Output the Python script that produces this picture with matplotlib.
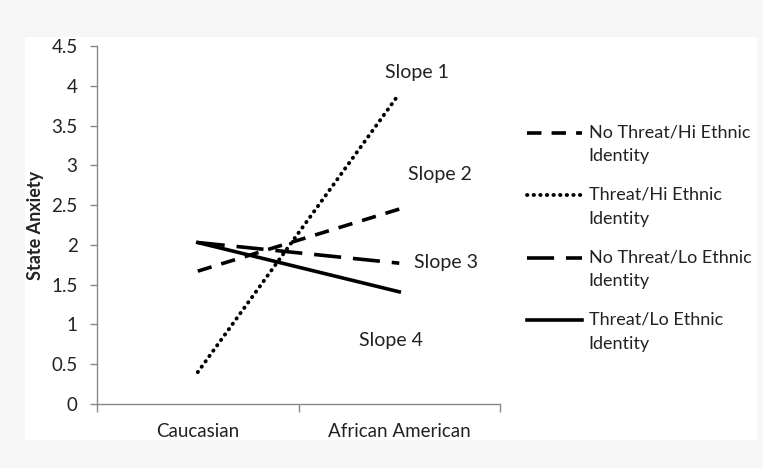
import numpy as np
import matplotlib.pyplot as plt
from matplotlib.patches import Rectangle
from matplotlib.legend_handler import HandlerLine2D

# data
groups = ["Caucasian", "African American"]
no_threat_hi = [1.67, 2.45]
threat_hi = [0.40, 3.90]
no_threat_lo = [2.03, 1.77]
threat_lo = [2.03, 1.41]
series_names = ["No Threat/Hi Ethnic\nIdentity", "Threat/Hi Ethnic\nIdentity",
                "No Threat/Lo Ethnic\nIdentity", "Threat/Lo Ethnic\nIdentity"]
slope_labels = ["Slope 1", "Slope 2", "Slope 3", "Slope 4"]

plt.rcParams['font.family'] = ['Lato', 'DejaVu Sans']
txt = '#222222'
axc = '#888888'


class FirstLineHandler(HandlerLine2D):
    # put the legend sample next to the first line of a two-line label
    def create_artists(self, legend, orig_handle, xdescent, ydescent, width, height,
                       fontsize, trans):
        arts = super().create_artists(legend, orig_handle, xdescent, ydescent, width,
                                      height, fontsize, trans)
        for a in arts:
            a.set_ydata(np.asarray(a.get_ydata()) + 8.3)
        return arts


fig = plt.figure(figsize=(7.63, 4.68), dpi=100)
fig.patch.set_facecolor('#f6f6f6')
fig.patches.append(Rectangle((25 / 763, 1 - 440 / 468), 732 / 763, 403 / 468,
                             transform=fig.transFigure, facecolor='white',
                             edgecolor='none', zorder=-10))

ax = fig.add_axes([97 / 763, 64 / 468, 403 / 763, 358 / 468])
ax.set_facecolor('none')

xs = [0.5, 1.5]
l1, = ax.plot(xs, no_threat_hi, color='black', lw=2.6, ls=(0, (4, 2.8)), label=series_names[0])
l2, = ax.plot(xs, threat_hi, color='black', lw=2.8, ls=(0, (0.1, 1.6)), dash_capstyle='round',
              label=series_names[1])
l3, = ax.plot(xs, no_threat_lo, color='black', lw=2.6, ls=(0, (7.5, 3.3)), label=series_names[2])
l4, = ax.plot(xs, threat_lo, color='black', lw=2.6, label=series_names[3])

# slope annotations
slope_pos = [(1.59, 4.17), (1.70, 2.89), (1.73, 1.78), (1.46, 0.80)]
for lab, (x, y) in zip(slope_labels, slope_pos):
    ax.text(x, y, lab, ha='center', va='center', fontsize=14, color=txt)

ax.set_xlim(0, 2)
ax.set_ylim(0, 4.5)
ax.set_yticks([0, 0.5, 1, 1.5, 2, 2.5, 3, 3.5, 4, 4.5])
ax.set_yticklabels(['0', '0.5', '1', '1.5', '2', '2.5', '3', '3.5', '4', '4.5'])
ax.set_xticks([0, 1, 2])
ax.set_xticklabels([])
ax.set_xticks(xs, minor=True)
ax.set_xticklabels(groups, minor=True)
ax.tick_params(axis='x', which='minor', length=0, pad=14, labelsize=13.5, labelcolor=txt)
ax.tick_params(axis='x', which='major', length=6, color=axc, width=1)
ax.tick_params(axis='y', length=5, color=axc, width=1, labelsize=13.5, labelcolor=txt, pad=9)

for s in ['top', 'right']:
    ax.spines[s].set_visible(False)
for s in ['left', 'bottom']:
    ax.spines[s].set_color(axc)
    ax.spines[s].set_linewidth(1)

ax.set_ylabel('State Anxiety', fontsize=13, fontweight='bold', color=txt, labelpad=5)

hmap = {h: FirstLineHandler() for h in (l1, l2, l3, l4)}
leg = ax.legend(loc='upper left', bbox_to_anchor=(520 / 763, 1 - 117 / 468),
                bbox_transform=fig.transFigure, frameon=False, fontsize=13,
                handlelength=3.05, handletextpad=0.35, labelspacing=1.26,
                borderaxespad=0, handler_map=hmap)
for t in leg.get_texts():
    t.set_color(txt)
    t.set_linespacing(1.6)

fig.savefig('out.png', dpi=100, facecolor=fig.get_facecolor())
